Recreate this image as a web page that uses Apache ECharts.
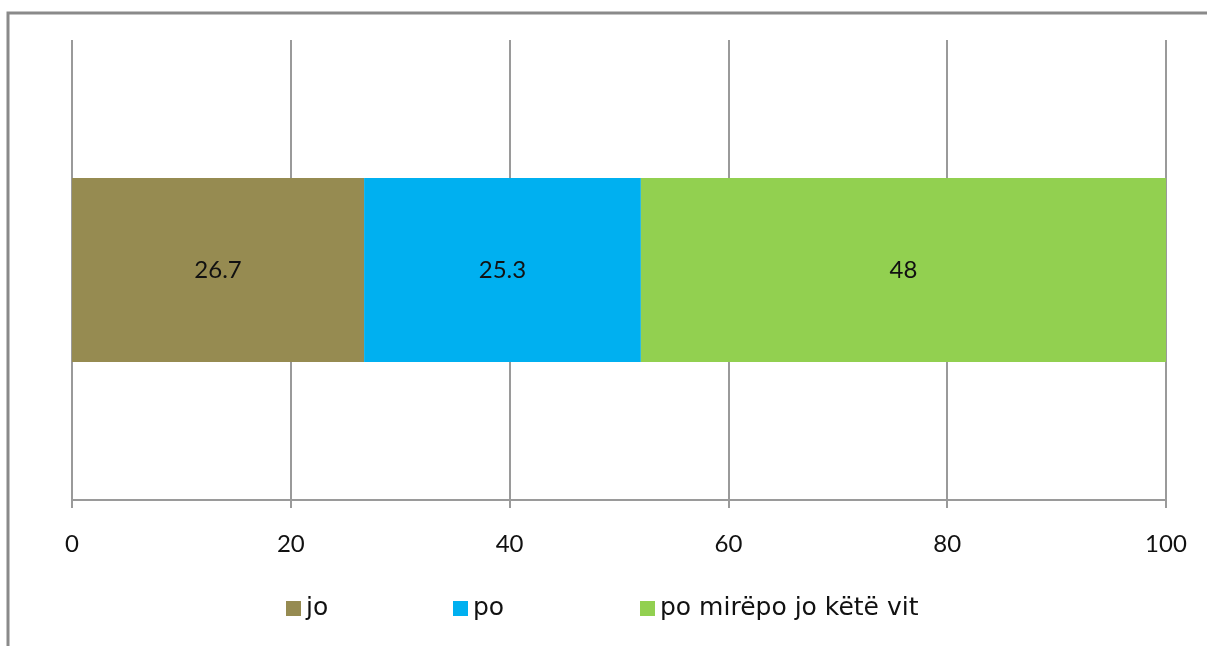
<!DOCTYPE html>
<html><head><meta charset="utf-8">
<script src="https://cdn.jsdelivr.net/npm/echarts@6/dist/echarts.min.js"></script>
<style>html,body{margin:0;padding:0;background:#fff}#c{width:1207px;height:646px}</style>
</head><body><div id="c"></div>
<script>
const categories = [''];
const seriesNames = ['jo', 'po', 'po mirëpo jo këtë vit'];
const joValues = [26.7];
const poValues = [25.3];
const poMirepoValues = [48];
const colors = ['#968b51', '#00b0f0', '#92d050'];
const xTicks = [0, 20, 40, 60, 80, 100];

const chart = echarts.init(document.getElementById('c'));
const font = "'Century Gothic', 'Lato', 'DejaVu Sans', sans-serif";
const legendFont = "'Century Gothic', 'DejaVu Sans', sans-serif";
const data = [joValues, poValues, poMirepoValues];
const legendLefts = [286, 453, 640];
chart.setOption({
  animation: false,
  textStyle: { fontFamily: font },
  graphic: [{
    type: 'polyline', shape: { points: [[8, 660], [8, 13], [1215, 13]] },
    style: { stroke: '#8a8a8a', lineWidth: 3, fill: null }
  }],
  grid: { left: 72, right: 41, top: 40, bottom: 146 },
  legend: seriesNames.map((n, i) => ({
    left: legendLefts[i], top: 596, itemWidth: 15, itemHeight: 15, itemGap: 0,
    icon: 'rect', padding: 0, itemTextGap: 5,
    textStyle: { fontSize: 25, color: '#111', fontFamily: legendFont },
    data: [n]
  })),
  xAxis: {
    type: 'value', min: xTicks[0], max: xTicks[xTicks.length - 1], interval: 20,
    axisLine: { show: true, lineStyle: { color: '#9a9a9a', width: 2 } },
    axisTick: { show: true, length: 8, lineStyle: { color: '#9a9a9a', width: 2 } },
    axisLabel: { fontSize: 24, color: '#111', margin: 32, fontFamily: font },
    splitLine: { show: true, lineStyle: { color: '#9a9a9a', width: 2 } }
  },
  yAxis: {
    type: 'category', data: categories,
    axisLine: { show: false }, axisTick: { show: false }, axisLabel: { show: false }
  },
  series: seriesNames.map((n, i) => ({
    name: n, type: 'bar', stack: 'total', data: data[i], barWidth: 184,
    itemStyle: { color: colors[i] },
    label: { show: true, position: 'inside', fontSize: 24, color: '#111', fontFamily: font }
  }))
});
</script></body></html>
